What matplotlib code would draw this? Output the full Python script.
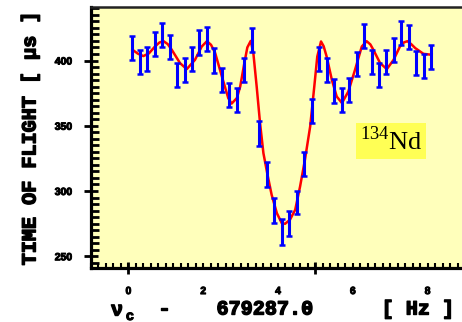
import numpy as np
import matplotlib
matplotlib.use('Agg')
import matplotlib.pyplot as plt
import matplotlib.patheffects as pe
from matplotlib.ticker import MultipleLocator

# frequency offset (Hz) of each measured point
nu = [0.1, 0.3, 0.5, 0.7, 0.9, 1.1, 1.3, 1.5, 1.7, 1.9,
      2.1, 2.3, 2.5, 2.7, 2.9, 3.1, 3.3, 3.5, 3.7, 3.9,
      4.1, 4.3, 4.5, 4.7, 4.9, 5.1, 5.3, 5.5, 5.7, 5.9,
      6.1, 6.3, 6.5, 6.7, 6.9, 7.1, 7.3, 7.5, 7.7, 7.9, 8.1]
# mean time of flight (us)
tof = [409.7, 399.2, 401.3, 413.0, 419.4, 410.2, 389.0, 392.6, 401.3, 413.8,
       416.6, 400.0, 385.4, 373.9, 369.6, 392.9, 415.9, 344.0, 312.6, 284.8,
       268.5, 275.0, 291.1, 320.8, 361.2, 401.0, 392.6, 376.5, 369.6, 377.2,
       397.0, 418.4, 399.0, 389.0, 399.0, 407.7, 420.7, 417.9, 397.9, 395.7, 403.0]
tof_err = [9.2, 9.2, 9.2, 9.2, 9.2, 9.2, 9.2, 9.2, 9.2, 9.2,
           9.2, 9.2, 9.2, 9.2, 9.2, 9.2, 9.2, 9.3, 9.8, 9.6,
           10.2, 9.8, 9.1, 9.0, 9.0, 9.2, 9.2, 9.2, 9.2, 9.2,
           9.2, 9.2, 9.2, 9.2, 9.2, 9.2, 9.2, 9.2, 9.2, 9.2, 9.2]

# fitted line shape
fit_nu = [0.11, 0.25, 0.40, 0.55, 0.71, 0.83, 0.94, 1.05, 1.16, 1.38,
          1.56, 1.78, 1.96, 2.10, 2.21, 2.32, 2.50, 2.67, 2.76, 2.90,
          2.99, 3.10, 3.18, 3.27, 3.34, 3.43, 3.52, 3.61, 3.72, 3.83,
          3.97, 4.10, 4.19, 4.32, 4.46, 4.59, 4.72, 4.86, 4.97, 5.05,
          5.15, 5.22, 5.30, 5.44, 5.57, 5.71, 5.88, 6.06, 6.24, 6.37,
          6.47, 6.55, 6.73, 6.91, 7.09, 7.26, 7.37, 7.46, 7.56, 7.67,
          7.89, 8.11]
fit_tof = [408.2, 405.3, 403.4, 405.5, 410.7, 413.8, 414.8, 412.6, 408.2, 398.0,
           393.4, 400.5, 410.7, 414.8, 412.0, 405.7, 387.7, 371.2, 367.0, 371.2,
           380.1, 398.0, 410.0, 415.0, 406.0, 380.0, 352.0, 329.0, 312.4, 297.1,
           283.0, 275.4, 274.9, 278.0, 285.6, 303.4, 323.9, 349.4, 380.0, 403.0,
           414.6, 411.0, 403.1, 385.2, 372.4, 367.4, 376.2, 392.9, 410.7, 414.8,
           412.3, 408.2, 398.0, 393.4, 400.5, 410.7, 413.9, 414.8, 412.6, 409.5,
           405.1, 404.4]

fig = plt.figure(figsize=(4.62, 3.22), dpi=100)
ax = fig.add_axes([91 / 462, 1 - 268 / 322, 374 / 462, 261 / 322])
ax.set_facecolor('#ffffbb')

ax.plot(fit_nu, fit_tof, color='#ff0000', linewidth=1.8, zorder=2)
ax.errorbar(nu, tof, yerr=tof_err, fmt='none', ecolor='#0000ff',
            elinewidth=2.2, capsize=2.5, capthick=1.8, zorder=3)

ax.set_xlim(-1, 9)
ax.set_ylim(241, 441)

ax.spines['left'].set_linewidth(2.3)
ax.spines['bottom'].set_linewidth(2.3)
ax.spines['top'].set_linewidth(1.8)
ax.spines['top'].set_color('#222222')
ax.spines['right'].set_visible(False)

ax.yaxis.set_major_locator(MultipleLocator(50))
ax.yaxis.set_minor_locator(MultipleLocator(5))
ax.xaxis.set_major_locator(MultipleLocator(2))
ax.xaxis.set_minor_locator(MultipleLocator(0.2))

ax.tick_params(axis='y', which='major', direction='inout', length=9.4, width=2, pad=9)
ax.tick_params(axis='y', which='minor', direction='in', length=5.4, width=2)
ax.tick_params(axis='x', which='major', direction='in', length=3.6, width=1.5, pad=13)
ax.tick_params(axis='x', which='minor', direction='in', length=3.6, width=1.5)

sec = ax.secondary_xaxis('bottom')
sec.set_xticks([0, 5])
sec.tick_params(direction='inout', length=8, width=2, labelbottom=False)
sec.spines['bottom'].set_visible(False)

heavy = [pe.withStroke(linewidth=0.7, foreground='black')]
for lab in ax.get_xticklabels() + ax.get_yticklabels():
    lab.set_fontfamily('Liberation Sans')
    lab.set_fontweight('bold')
    lab.set_fontsize(7.5)
    lab.set_path_effects(heavy)

mono = dict(family='Liberation Mono', fontweight='bold', fontsize=14.5,
            path_effects=[pe.withStroke(linewidth=1.0, foreground='black')])
fig.text(30 / 462, 1 - 138 / 322, 'TIME OF FLIGHT [ µs ]', rotation=90,
         ha='center', va='center', **mono)

fig.text(117 / 462, 1 - 310 / 322, 'ν', ha='center', va='center', **mono)
fig.text(130 / 462, 1 - 316 / 322, 'c', ha='center', va='center',
         family='Liberation Mono', fontweight='bold', fontsize=10,
         path_effects=[pe.withStroke(linewidth=0.8, foreground='black')])
fig.text(164 / 462, 1 - 309 / 322, '-', ha='center', va='center', **mono)
fig.text(265 / 462, 1 - 309 / 322, '679287.0', ha='center', va='center', **mono)
fig.text(418 / 462, 1 - 309 / 322, '[ Hz ]', ha='center', va='center', **mono)

fig.text(391 / 462, 1 - 141 / 322, r'$^{\mathregular{134}}$Nd', ha='center', va='center',
         family='Liberation Serif', fontsize=19,
         bbox=dict(boxstyle='square,pad=0.15', facecolor='#ffff55', edgecolor='none'))

fig.savefig('out.png', dpi=100)
